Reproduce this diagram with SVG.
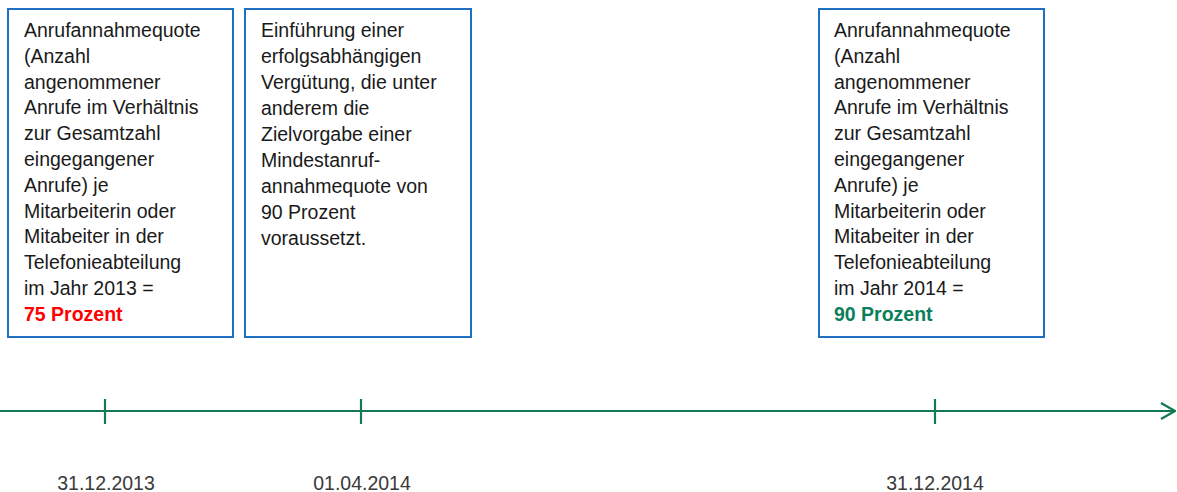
<svg xmlns="http://www.w3.org/2000/svg" width="1177" height="492" viewBox="0 0 1177 492">
  <style>
    .box { fill: #ffffff; stroke: #1F6FC2; stroke-width: 2; }
    .txt { font-family: "Liberation Sans", Arial, sans-serif; font-size: 19.5px; fill: #1a1a1a; }
    .date { font-family: "Liberation Sans", Arial, sans-serif; font-size: 19.5px; fill: #3a3a3a; text-anchor: middle; }
    .red { fill: #FF0000; font-weight: bold; }
    .green { fill: #0B7F5A; font-weight: bold; }
    .axis { stroke: #127A53; stroke-width: 2.2; fill: none; }
  </style>
  <defs>
    <marker id="arrowOpen" viewBox="0 0 16 18" refX="15" refY="9" markerWidth="16" markerHeight="18" markerUnits="userSpaceOnUse" orient="auto">
      <path d="M1,1 L15,9 L1,17" fill="none" stroke="#127A53" stroke-width="2.2"/>
    </marker>
  </defs>

  <rect width="1177" height="492" fill="#ffffff"/>

  <!-- Box: quota 2013 -->
  <g id="node-quote-2013">
    <rect class="box" x="8" y="9" width="225" height="328"/>
    <text class="txt" x="24" y="37">
      <tspan x="24" dy="0">Anrufannahmequote</tspan>
      <tspan x="24" dy="25.8">(Anzahl</tspan>
      <tspan x="24" dy="25.8">angenommener</tspan>
      <tspan x="24" dy="25.8">Anrufe im Verhältnis</tspan>
      <tspan x="24" dy="25.8">zur Gesamtzahl</tspan>
      <tspan x="24" dy="25.8">eingegangener</tspan>
      <tspan x="24" dy="25.8">Anrufe) je</tspan>
      <tspan x="24" dy="25.8">Mitarbeiterin oder</tspan>
      <tspan x="24" dy="25.8">Mitabeiter in der</tspan>
      <tspan x="24" dy="25.8">Telefonieabteilung</tspan>
      <tspan x="24" dy="25.8">im Jahr 2013 =</tspan>
      <tspan x="24" dy="25.8" class="red">75 Prozent</tspan>
    </text>
  </g>

  <!-- Box: performance-based pay -->
  <g id="node-verguetung">
    <rect class="box" x="245" y="9" width="226" height="328"/>
    <text class="txt" x="261" y="37">
      <tspan x="261" dy="0">Einführung einer</tspan>
      <tspan x="261" dy="26">erfolgsabhängigen</tspan>
      <tspan x="261" dy="26">Vergütung, die unter</tspan>
      <tspan x="261" dy="26">anderem die</tspan>
      <tspan x="261" dy="26">Zielvorgabe einer</tspan>
      <tspan x="261" dy="26">Mindestanruf-</tspan>
      <tspan x="261" dy="26">annahmequote von</tspan>
      <tspan x="261" dy="26">90 Prozent</tspan>
      <tspan x="261" dy="26">voraussetzt.</tspan>
    </text>
  </g>

  <!-- Box: quota 2014 -->
  <g id="node-quote-2014">
    <rect class="box" x="819" y="9" width="225" height="328"/>
    <text class="txt" x="834" y="37">
      <tspan x="834" dy="0">Anrufannahmequote</tspan>
      <tspan x="834" dy="25.8">(Anzahl</tspan>
      <tspan x="834" dy="25.8">angenommener</tspan>
      <tspan x="834" dy="25.8">Anrufe im Verhältnis</tspan>
      <tspan x="834" dy="25.8">zur Gesamtzahl</tspan>
      <tspan x="834" dy="25.8">eingegangener</tspan>
      <tspan x="834" dy="25.8">Anrufe) je</tspan>
      <tspan x="834" dy="25.8">Mitarbeiterin oder</tspan>
      <tspan x="834" dy="25.8">Mitabeiter in der</tspan>
      <tspan x="834" dy="25.8">Telefonieabteilung</tspan>
      <tspan x="834" dy="25.8">im Jahr 2014 =</tspan>
      <tspan x="834" dy="25.8" class="green">90 Prozent</tspan>
    </text>
  </g>

  <!-- Timeline axis with ticks -->
  <g id="connectors">
    <line class="axis" x1="0" y1="411" x2="1175" y2="411" marker-end="url(#arrowOpen)"/>
    <line class="axis" x1="105" y1="399" x2="105" y2="424"/>
    <line class="axis" x1="361" y1="399" x2="361" y2="424"/>
    <line class="axis" x1="935" y1="399" x2="935" y2="424"/>
  </g>

  <!-- Date labels -->
  <g id="node-date-2013-12-31"><text class="date" x="106" y="490">31.12.2013</text></g>
  <g id="node-date-2014-04-01"><text class="date" x="362" y="490">01.04.2014</text></g>
  <g id="node-date-2014-12-31"><text class="date" x="935" y="490">31.12.2014</text></g>
</svg>
